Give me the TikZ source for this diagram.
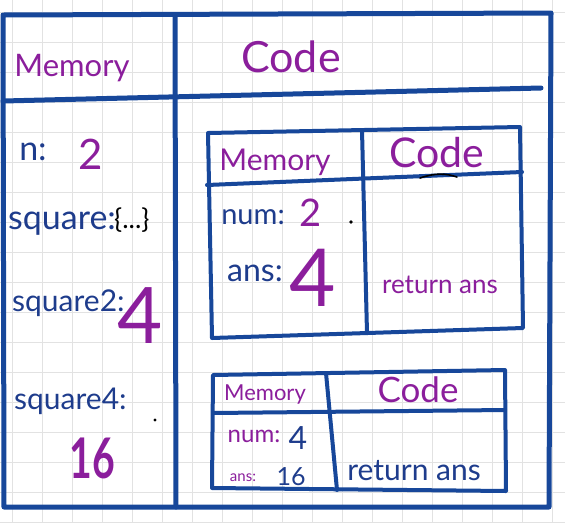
\documentclass[tikz,border=0pt]{standalone}
\usepackage{fontspec}
\setmainfont{Lato}
\definecolor{navy}{HTML}{17479A}
\definecolor{ink}{HTML}{1E3C8C}
\definecolor{plum}{HTML}{8B1E9C}
\definecolor{gridc}{HTML}{E2E2E2}
\tikzset{
  frame/.style={draw=navy, line width=5pt, line cap=round, line join=round},
  boxframe/.style={draw=navy, line width=4pt, line cap=round, line join=round},
  txt/.style={inner sep=0pt, anchor=center},
  fs/.style={font=\fontsize{#1}{#1}\selectfont},
  pl/.style={txt, text=plum},
  nv/.style={txt, text=ink},
}
\begin{document}
\begin{tikzpicture}[x=1pt,y=-1pt]
\useasboundingbox (0,0) rectangle (565,523);
\fill[white] (0,0) rectangle (565,523);
\foreach \k in {0,...,18} \draw[gridc, line width=1pt] (12+30*\k,0) -- (12+30*\k,523);
\foreach \k in {0,...,17} \draw[gridc, line width=1pt] (0,12+30*\k) -- (565,12+30*\k);

% outer frame
\draw[frame] (3,15) -- (551,13) -- (549,507) -- (4,507) -- cycle;
\draw[frame] (3,101) -- (541,88);
\draw[frame] (175,16) -- (176,507);

% inner box 1
\draw[boxframe] (208,133) -- (520,127) -- (523,328) -- (212,338) -- cycle;
\draw[boxframe] (207,185) -- (522,172);
\draw[boxframe] (362,130) -- (367,333);

% inner box 2
\draw[boxframe] (213,375) -- (505,370) -- (506,491) -- (212,488) -- cycle;
\draw[boxframe] (213,413) -- (505,410);
\draw[boxframe] (326,373) -- (337,490);

% headers
\node[pl, fs=31] (hmem) at (72,68) {Memory};
\node[pl, fs=43] (hcode) at (291,57) {Code};

% left column
\node[nv, fs=34] (nlab) at (33,152) {n:};
\node[pl, fs=42] (nval) at (91,154) {2};
\node[nv, fs=34, anchor=base west] (sq) at (8,229) {square:};
\node[txt, fs=27, anchor=base west] (sqv) at (114,228) {\{...\}};
\node[nv, fs=30, anchor=base west] (sq2) at (12,311) {square2:};
\node[pl, fs=78] (sq2v) at (140,316) {4};
\node[nv, fs=30, anchor=base west] (sq4) at (14,409) {square4:};
\fill (155,420) circle (1.6pt);
\node[pl, font=\bfseries\fontsize{56}{56}\selectfont] (sq4v) at (92,458) {\scalebox{0.7}[1]{16}};

% box 1 content
\node[pl, fs=30] (m1) at (275,162) {Memory};
\node[pl, fs=41] (c1) at (437,153) {Code};
\draw[black, line width=1.6pt, line cap=round] (420,178) .. controls (435,173) and (445,173) .. (457,177);
\node[nv, fs=29] (num1) at (253,217) {num:};
\node[pl, fs=38] (num1v) at (311,213) {2};
\fill (351,222) circle (1.8pt);
\node[nv, fs=32] (ans1) at (255,273) {ans:};
\node[pl, fs=80] (ans1v) at (313,278) {4};
\node[pl, fs=26] (ret1) at (440,285) {return ans};

% box 2 content
\node[pl, fs=22] (m2) at (265,394) {Memory};
\node[pl, fs=35] (c2) at (418,390) {Code};
\node[pl, fs=24] (num2) at (254,436) {num:};
\node[nv, fs=32] (num2v) at (298,438) {4};
\node[pl, fs=15] (ans2) at (243,478) {ans:};
\node[nv, fs=25] (ans2v) at (291,477) {16};
\node[nv, fs=30] (ret2) at (414,471) {return ans};
\end{tikzpicture}
\end{document}
